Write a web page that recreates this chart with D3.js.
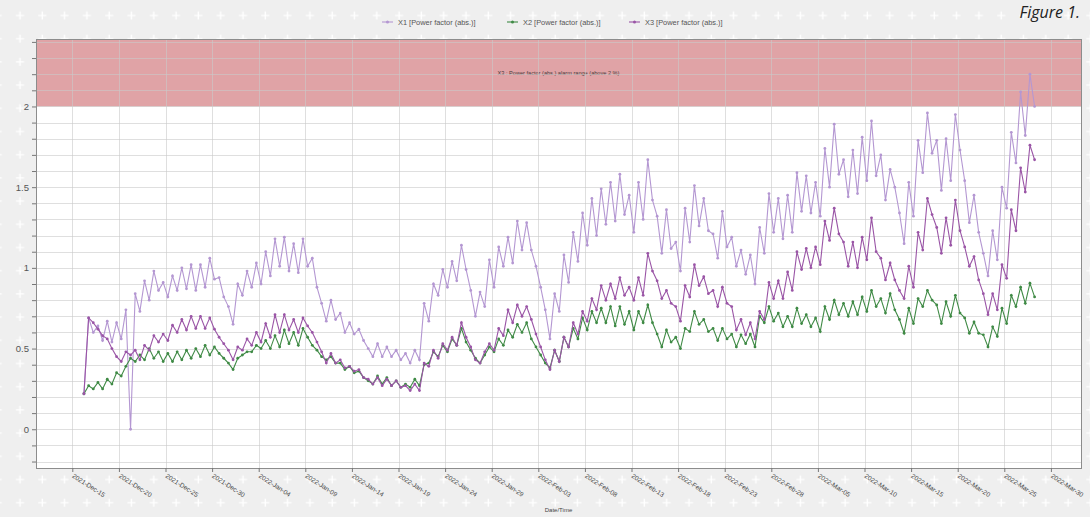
<!DOCTYPE html>
<html lang="en">
<head>
    <meta charset="UTF-8">
    <title>Power factor | D3</title>
    <style>
        body { margin: 0; background: #efefef; }
        svg { display: block; font-family: "Liberation Sans", Arial, sans-serif; }
    </style>
</head>
<body>
    <div id="container"></div>

    <script type="text/javascript" src="https://cdn.jsdelivr.net/npm/d3@7"></script>
    <script type="text/javascript">
        // Series names, shown in the legend.
        var seriesNames = ["X1 [Power factor (abs.)]", "X2 [Power factor (abs.)]", "X3 [Power factor (abs.)]"];

        // Samples every 12 hours, first one on 2021-Dec-16 06:00.
        var sampleStart = Date.UTC(2021, 11, 16, 6);
        var sampleStepHours = 12;

        var x1Values = [
            0.22, 0.69, 0.60, 0.64, 0.55, 0.67, 0.54, 0.66, 0.56, 0.74,
            0.00, 0.84, 0.73, 0.92, 0.80, 0.98, 0.86, 0.91, 0.82, 0.95,
            0.86, 1.00, 0.87, 1.02, 0.86, 1.02, 0.88, 1.06, 0.93, 0.94,
            0.82, 0.76, 0.65, 0.90, 0.83, 0.98, 0.88, 1.03, 0.90, 1.10,
            0.95, 1.18, 1.01, 1.19, 0.98, 1.15, 0.97, 1.18, 1.01, 1.06,
            0.88, 0.78, 0.67, 0.80, 0.68, 0.72, 0.60, 0.66, 0.59, 0.62,
            0.55, 0.50, 0.45, 0.53, 0.45, 0.51, 0.45, 0.49, 0.43, 0.47,
            0.41, 0.49, 0.43, 0.78, 0.67, 0.90, 0.83, 0.99, 0.88, 1.04,
            0.92, 1.14, 0.99, 0.86, 0.70, 0.85, 0.76, 1.05, 0.88, 1.13,
            1.01, 1.19, 1.03, 1.29, 1.11, 1.28, 1.11, 1.01, 0.88, 0.74,
            0.56, 0.84, 0.73, 1.08, 0.91, 1.22, 1.04, 1.34, 1.14, 1.43,
            1.20, 1.49, 1.27, 1.53, 1.29, 1.58, 1.33, 1.45, 1.22, 1.53,
            1.30, 1.67, 1.42, 1.32, 1.09, 1.36, 1.12, 1.16, 0.98, 1.37,
            1.16, 1.51, 1.26, 1.43, 1.23, 1.21, 1.06, 1.35, 1.13, 1.19,
            1.01, 1.11, 0.96, 1.08, 0.90, 1.25, 1.09, 1.46, 1.22, 1.43,
            1.18, 1.45, 1.22, 1.59, 1.35, 1.57, 1.34, 1.53, 1.32, 1.74,
            1.50, 1.89, 1.58, 1.67, 1.44, 1.73, 1.46, 1.81, 1.54, 1.91,
            1.57, 1.70, 1.42, 1.61, 1.50, 1.34, 1.15, 1.53, 1.32, 1.79,
            1.59, 1.96, 1.71, 1.79, 1.48, 1.80, 1.54, 1.95, 1.73, 1.54,
            1.28, 1.45, 1.22, 1.09, 0.95, 1.23, 1.05, 1.50, 1.37, 1.84,
            1.65, 2.09, 1.82, 2.20, 2.00
        ];

        var x2Values = [
            0.22, 0.27, 0.25, 0.29, 0.25, 0.31, 0.28, 0.35, 0.33, 0.39,
            0.44, 0.42, 0.46, 0.43, 0.50, 0.44, 0.48, 0.42, 0.47, 0.42,
            0.48, 0.43, 0.49, 0.44, 0.50, 0.45, 0.52, 0.46, 0.51, 0.47,
            0.44, 0.41, 0.37, 0.44, 0.46, 0.48, 0.48, 0.52, 0.50, 0.55,
            0.50, 0.58, 0.51, 0.615, 0.53, 0.60, 0.52, 0.625, 0.57, 0.52,
            0.49, 0.45, 0.43, 0.45, 0.41, 0.41, 0.37, 0.39, 0.35, 0.36,
            0.32, 0.30, 0.28, 0.33, 0.28, 0.32, 0.27, 0.30, 0.26, 0.28,
            0.26, 0.31, 0.27, 0.40, 0.41, 0.48, 0.45, 0.52, 0.48, 0.56,
            0.52, 0.625, 0.54, 0.49, 0.44, 0.41, 0.46, 0.51, 0.48, 0.56,
            0.52, 0.615, 0.57, 0.65, 0.60, 0.66, 0.56, 0.51, 0.46, 0.41,
            0.38, 0.49, 0.42, 0.57, 0.51, 0.625, 0.56, 0.69, 0.615, 0.73,
            0.66, 0.75, 0.66, 0.76, 0.64, 0.76, 0.65, 0.73, 0.615, 0.73,
            0.66, 0.77, 0.66, 0.59, 0.51, 0.615, 0.54, 0.57, 0.50, 0.625,
            0.605, 0.73, 0.65, 0.68, 0.605, 0.625, 0.55, 0.625, 0.56, 0.59,
            0.51, 0.585, 0.53, 0.59, 0.51, 0.70, 0.66, 0.76, 0.67, 0.72,
            0.635, 0.70, 0.635, 0.75, 0.655, 0.71, 0.635, 0.69, 0.605, 0.76,
            0.68, 0.80, 0.71, 0.78, 0.70, 0.79, 0.71, 0.82, 0.73, 0.86,
            0.76, 0.81, 0.72, 0.84, 0.74, 0.68, 0.595, 0.75, 0.655, 0.81,
            0.76, 0.86, 0.80, 0.77, 0.655, 0.79, 0.70, 0.83, 0.72, 0.69,
            0.595, 0.665, 0.595, 0.585, 0.51, 0.635, 0.575, 0.75, 0.655, 0.83,
            0.76, 0.88, 0.78, 0.905, 0.82
        ];

        var x3Values = [
            0.22, 0.69, 0.66, 0.62, 0.58, 0.56, 0.50, 0.45, 0.42, 0.48,
            0.46, 0.49, 0.43, 0.52, 0.49, 0.58, 0.54, 0.59, 0.55, 0.645,
            0.60, 0.68, 0.615, 0.70, 0.625, 0.70, 0.625, 0.69, 0.62, 0.57,
            0.53, 0.49, 0.43, 0.51, 0.49, 0.56, 0.52, 0.60, 0.54, 0.655,
            0.57, 0.71, 0.60, 0.71, 0.615, 0.68, 0.60, 0.69, 0.64, 0.60,
            0.54, 0.48, 0.41, 0.47, 0.41, 0.43, 0.38, 0.39, 0.36, 0.37,
            0.32, 0.31, 0.28, 0.32, 0.27, 0.31, 0.27, 0.30, 0.26, 0.27,
            0.24, 0.28, 0.24, 0.41, 0.39, 0.49, 0.44, 0.53, 0.49, 0.57,
            0.52, 0.66, 0.57, 0.51, 0.43, 0.41, 0.48, 0.53, 0.49, 0.625,
            0.58, 0.74, 0.66, 0.77, 0.70, 0.76, 0.68, 0.59, 0.51, 0.43,
            0.37, 0.49, 0.42, 0.57, 0.51, 0.66, 0.59, 0.73, 0.67, 0.81,
            0.74, 0.89, 0.80, 0.90, 0.81, 0.94, 0.83, 0.88, 0.80, 0.94,
            0.83, 1.09, 0.98, 0.92, 0.81, 0.86, 0.78, 0.76, 0.67, 0.89,
            0.82, 1.02, 0.89, 0.945, 0.84, 0.86, 0.76, 0.88, 0.78, 0.76,
            0.615, 0.68, 0.585, 0.66, 0.56, 0.73, 0.68, 0.91, 0.81, 0.92,
            0.81, 0.975, 0.86, 1.10, 0.99, 1.12, 1.00, 1.13, 1.02, 1.29,
            1.17, 1.37, 1.21, 1.16, 1.01, 1.16, 1.00, 1.19, 1.05, 1.31,
            1.10, 1.06, 0.925, 1.03, 0.925, 0.86, 0.81, 1.01, 0.88, 1.22,
            1.11, 1.43, 1.33, 1.25, 1.09, 1.31, 1.14, 1.42, 1.23, 1.13,
            1.01, 1.07, 0.925, 0.84, 0.71, 0.84, 0.74, 1.02, 0.935, 1.36,
            1.23, 1.62, 1.47, 1.76, 1.67
        ];

        // Axis ticks.
        var xTickLabels = [
            "2021-Dec-15", "2021-Dec-20", "2021-Dec-25", "2021-Dec-30", "2022-Jan-04", "2022-Jan-09",
            "2022-Jan-14", "2022-Jan-19", "2022-Jan-24", "2022-Jan-29", "2022-Feb-03", "2022-Feb-08",
            "2022-Feb-13", "2022-Feb-18", "2022-Feb-23", "2022-Feb-28", "2022-Mar-05", "2022-Mar-10",
            "2022-Mar-15", "2022-Mar-20", "2022-Mar-25", "2022-Mar-30"
        ];
        var yTickLabels = ["0", "0.5", "1", "1.5", "2"];
        var alarmLimit = 2;

        var colors = ["#b497d2", "#3f8a45", "#9a55a6"];

        var width = 1090, height = 517;
        var plot = { left: 36, right: 1081, top: 39, bottom: 468 };

        var svg = d3.select("#container")
            .append("svg")
            .attr("width", width)
            .attr("height", height);

        // Page background with the little white crosses.
        var defs = svg.append("defs");
        var pattern = defs.append("pattern")
            .attr("id", "crosses")
            .attr("patternUnits", "userSpaceOnUse")
            .attr("x", 9).attr("y", 4)
            .attr("width", 22.3).attr("height", 23.2);
        pattern.append("path")
            .attr("d", "M7,11.5H15M11,7.5V15.5")
            .attr("stroke", "#ffffff")
            .attr("stroke-width", 1.4);

        svg.append("rect").attr("width", width).attr("height", height).attr("fill", "#efefef");
        svg.append("rect").attr("width", width).attr("height", height).attr("fill", "url(#crosses)");

        var parseTick = d3.utcParse("%Y-%b-%d");
        var tickDates = xTickLabels.map(parseTick);

        var x = d3.scaleUtc()
            .domain([new Date(Date.UTC(2021, 11, 11, 2, 30)), new Date(Date.UTC(2022, 3, 2, 5, 30))])
            .range([plot.left, plot.right]);

        var y = d3.scaleLinear()
            .domain([-0.24, 2.418])
            .range([plot.bottom, plot.top]);

        // Plot area.
        svg.append("rect")
            .attr("x", plot.left).attr("y", plot.top)
            .attr("width", plot.right - plot.left).attr("height", plot.bottom - plot.top)
            .attr("fill", "#ffffff");

        // Alarm range above the limit.
        svg.append("rect")
            .attr("x", plot.left).attr("y", plot.top)
            .attr("width", plot.right - plot.left)
            .attr("height", y(alarmLimit) - plot.top)
            .attr("fill", "#e0a3a6");

        svg.append("text")
            .attr("x", (plot.left + plot.right) / 2)
            .attr("y", 75)
            .attr("text-anchor", "middle")
            .attr("font-size", 5.6)
            .attr("fill", "#4a3a3a")
            .text("X3 : Power factor (abs.) alarm range (above 2 %)");

        // Grid.
        var gridValues = d3.range(-2, 25).map(function(i) { return i / 10; });
        var grid = svg.append("g").attr("class", "grid")
            .attr("stroke", "#c9c9c9")
            .attr("stroke-opacity", 0.6)
            .attr("stroke-width", 1);

        grid.selectAll("line.h")
            .data(gridValues)
            .enter().append("line")
            .attr("class", "h")
            .attr("x1", plot.left).attr("x2", plot.right)
            .attr("y1", function(d) { return Math.round(y(d)) + 0.5; })
            .attr("y2", function(d) { return Math.round(y(d)) + 0.5; });

        grid.selectAll("line.v")
            .data(tickDates)
            .enter().append("line")
            .attr("class", "v")
            .attr("y1", plot.top).attr("y2", plot.bottom)
            .attr("x1", function(d) { return Math.round(x(d)) + 0.5; })
            .attr("x2", function(d) { return Math.round(x(d)) + 0.5; });

        // Frame.
        svg.append("rect")
            .attr("x", plot.left + 0.5).attr("y", plot.top + 0.5)
            .attr("width", plot.right - plot.left).attr("height", plot.bottom - plot.top)
            .attr("fill", "none")
            .attr("stroke", "#8c8c8c");

        // Y axis: ticks every 0.1, labels on the halves.
        var yAxis = d3.axisLeft(y)
            .tickValues(gridValues)
            .tickSize(4)
            .tickPadding(3)
            .tickFormat(function(d) {
                var lab = yTickLabels.find(function(t) { return Math.abs(+t - d) < 1e-6; });
                return lab === undefined ? "" : lab;
            });

        var gy = svg.append("g")
            .attr("transform", "translate(" + plot.left + ",0)")
            .call(yAxis);
        gy.select(".domain").remove();
        gy.selectAll("line").attr("stroke", "#777");
        gy.selectAll("text").attr("font-size", 9.5).attr("fill", "#555").attr("font-family", "Liberation Sans, Arial, sans-serif");

        // X axis with slanted date labels.
        var xAxis = d3.axisBottom(x)
            .tickValues(tickDates)
            .tickSize(4)
            .tickFormat(d3.utcFormat("%Y-%b-%d"));

        var gx = svg.append("g")
            .attr("transform", "translate(0," + plot.bottom + ")")
            .call(xAxis);
        gx.select(".domain").remove();
        gx.selectAll("line").attr("stroke", "#777");
        gx.selectAll("text")
            .attr("font-size", 6.5)
            .attr("fill", "#444")
            .attr("font-family", "Liberation Sans, Arial, sans-serif")
            .attr("text-anchor", "start")
            .attr("dy", null)
            .attr("y", 0)
            .attr("transform", "translate(-1,9) rotate(33)");

        svg.append("text")
            .attr("x", (plot.left + plot.right) / 2)
            .attr("y", 512)
            .attr("text-anchor", "middle")
            .attr("font-size", 6)
            .attr("fill", "#444")
            .text("Date/Time");

        // Series.
        var allSeries = [x1Values, x2Values, x3Values].map(function(values, s) {
            return {
                name: seriesNames[s],
                color: colors[s],
                points: values.map(function(v, i) {
                    return { t: new Date(sampleStart + i * sampleStepHours * 3600000), v: v };
                })
            };
        });

        var line = d3.line()
            .x(function(d) { return x(d.t); })
            .y(function(d) { return y(d.v); });

        var seriesGroup = svg.selectAll("g.series")
            .data(allSeries)
            .enter().append("g")
            .attr("class", "series");

        seriesGroup.append("path")
            .attr("d", function(d) { return line(d.points); })
            .attr("fill", "none")
            .attr("stroke", function(d) { return d.color; })
            .attr("stroke-width", 1.1);

        seriesGroup.each(function(s) {
            d3.select(this).selectAll("circle")
                .data(s.points)
                .enter().append("circle")
                .attr("cx", function(d) { return x(d.t); })
                .attr("cy", function(d) { return y(d.v); })
                .attr("r", 1.4)
                .attr("fill", s.color);
        });

        // Legend across the top.
        var legendX = [382, 507, 629];
        var legend = svg.selectAll("g.legend")
            .data(allSeries)
            .enter().append("g")
            .attr("class", "legend")
            .attr("transform", function(d, i) { return "translate(" + legendX[i] + ",22)"; });

        legend.append("line")
            .attr("x1", 0).attr("x2", 11)
            .attr("stroke", function(d) { return d.color; })
            .attr("stroke-width", 1.1);
        legend.append("circle")
            .attr("cx", 5.5).attr("r", 1.5)
            .attr("fill", function(d) { return d.color; });
        legend.append("text")
            .attr("x", 16)
            .attr("y", 2.6)
            .attr("font-size", 7.4)
            .attr("fill", "#555")
            .text(function(d) { return d.name; });

        svg.append("text")
            .attr("x", 1080)
            .attr("y", 18)
            .attr("text-anchor", "end")
            .attr("font-family", "Open Sans, sans-serif")
            .attr("font-style", "italic")
            .attr("font-size", 16)
            .attr("fill", "#222")
            .text("Figure 1.");
    </script>
</body>
</html>
